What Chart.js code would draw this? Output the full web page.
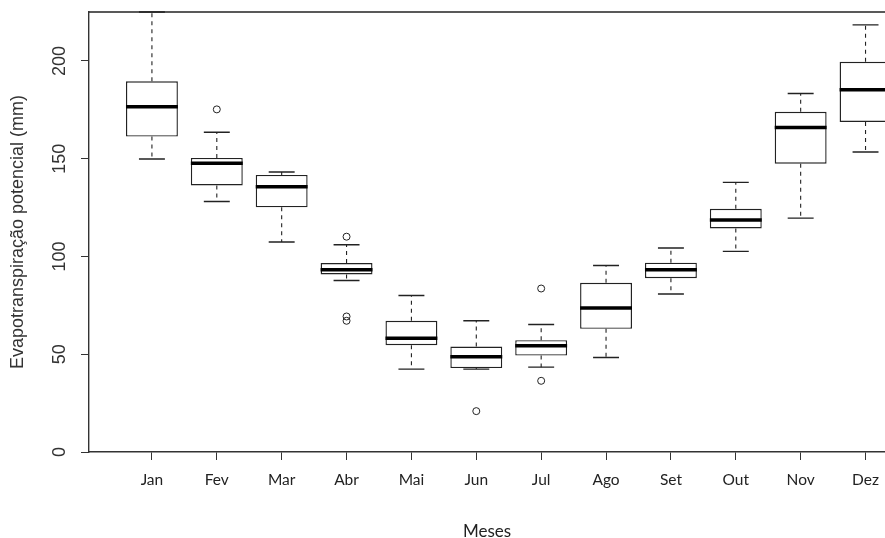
<!DOCTYPE html>
<html>
<head>
<meta charset="utf-8">
<script src="https://cdn.jsdelivr.net/npm/chart.js@4/dist/chart.umd.min.js"></script>
<style>
  body { margin: 0; background: #fff; }
</style>
</head>
<body>
<canvas id="grafico" width="885" height="538"></canvas>
<script>
const meses = ["Jan", "Fev", "Mar", "Abr", "Mai", "Jun", "Jul", "Ago", "Set", "Out", "Nov", "Dez"];
const minimos = [149.8, 128.1, 107.4, 87.7, 42.4, 42.4, 43.4, 48.3, 80.8, 102.6, 119.6, 153.4];
const quartil1 = [161.3, 136.3, 125.1, 90.8, 54.6, 42.9, 49.3, 63.0, 88.9, 114.3, 147.4, 168.8];
const medianas = [176.6, 147.6, 135.7, 93.2, 58.2, 48.7, 54.3, 73.6, 93.2, 118.6, 165.9, 185.3];
const quartil3 = [189.6, 150.4, 141.7, 96.6, 67.1, 53.9, 57.2, 86.5, 96.8, 124.4, 174.0, 199.5];
const maximos = [225.0, 163.5, 143.2, 106.0, 80.0, 67.1, 65.2, 95.4, 104.3, 137.9, 183.3, 218.4];
const outliersMes = ["Fev", "Abr", "Abr", "Abr", "Jun", "Jul", "Jul"];
const outliersValor = [175.2, 110.1, 69.3, 67.1, 20.9, 83.6, 36.4];
const ticksY = [0, 50, 100, 150, 200];

const corLinha = "#222";

// caixas como barras flutuantes
const dadosCaixas = meses.map((m, i) => ({ x: i + 1, y: [quartil1[i], quartil3[i]] }));
const dadosOutliers = outliersMes.map((m, i) => ({ x: meses.indexOf(m) + 1, y: outliersValor[i] }));

// bigodes, medianas e linha de cima da moldura
const desenhaBoxplot = {
  id: "desenhaBoxplot",
  afterDatasetsDraw(chart) {
    const ctx = chart.ctx;
    const x = chart.scales.x;
    const y = chart.scales.y;
    const area = chart.chartArea;
    ctx.save();
    ctx.strokeStyle = corLinha;
    meses.forEach((mes, i) => {
      const pos = i + 1;
      const cx = x.getPixelForValue(pos);

      ctx.lineWidth = 1.1;
      ctx.setLineDash([4, 4]);
      ctx.beginPath();
      ctx.moveTo(cx, y.getPixelForValue(quartil3[i]));
      ctx.lineTo(cx, y.getPixelForValue(maximos[i]));
      ctx.moveTo(cx, y.getPixelForValue(quartil1[i]));
      ctx.lineTo(cx, y.getPixelForValue(minimos[i]));
      ctx.stroke();
      ctx.setLineDash([]);

      ctx.lineWidth = 1.4;
      ctx.beginPath();
      ctx.moveTo(x.getPixelForValue(pos - 0.2), y.getPixelForValue(maximos[i]));
      ctx.lineTo(x.getPixelForValue(pos + 0.2), y.getPixelForValue(maximos[i]));
      ctx.moveTo(x.getPixelForValue(pos - 0.2), y.getPixelForValue(minimos[i]));
      ctx.lineTo(x.getPixelForValue(pos + 0.2), y.getPixelForValue(minimos[i]));
      ctx.stroke();

      ctx.lineWidth = 3.5;
      ctx.strokeStyle = "#000";
      ctx.beginPath();
      ctx.moveTo(x.getPixelForValue(pos - 0.4), y.getPixelForValue(medianas[i]));
      ctx.lineTo(x.getPixelForValue(pos + 0.4), y.getPixelForValue(medianas[i]));
      ctx.stroke();
      ctx.strokeStyle = corLinha;
    });
    ctx.lineWidth = 1.4;
    ctx.beginPath();
    ctx.moveTo(area.left, area.top);
    ctx.lineTo(area.right, area.top);
    ctx.stroke();
    ctx.restore();
  }
};

new Chart(document.getElementById("grafico"), {
  type: "bar",
  data: {
    datasets: [
      {
        type: "bar",
        data: dadosCaixas,
        backgroundColor: "#fff",
        borderColor: corLinha,
        borderWidth: 1.4,
        borderSkipped: false,
        categoryPercentage: 1,
        barPercentage: 0.8
      },
      {
        type: "scatter",
        data: dadosOutliers,
        pointStyle: "circle",
        pointRadius: 3.5,
        borderWidth: 1,
        borderColor: corLinha,
        backgroundColor: "rgba(0,0,0,0)"
      }
    ]
  },
  options: {
    responsive: false,
    animation: false,
    layout: { padding: { top: 12, left: 0, right: 0, bottom: 0 }, autoPadding: false },
    plugins: { legend: { display: false }, tooltip: { enabled: false } },
    scales: {
      x: {
        type: "linear",
        min: 0.03,
        max: 12.3,
        offset: false,
        afterBuildTicks: (axis) => { axis.ticks = meses.map((m, i) => ({ value: i + 1 })); },
        afterFit: (axis) => {
          axis.height = 86;
          axis.paddingLeft = 0;
          axis.paddingRight = 0;
        },
        grid: { drawOnChartArea: false, offset: false, tickLength: 8, color: "#333" },
        border: { color: "#333", width: 1.4 },
        ticks: {
          autoSkip: false,
          maxRotation: 0,
          padding: 11,
          color: "#222",
          font: { family: "Lato", size: 15.5 },
          callback: (v) => meses[v - 1]
        },
        title: {
          display: true,
          text: "Meses",
          color: "#222",
          padding: 0,
          font: { family: "Lato", size: 17, lineHeight: 0.8 }
        }
      },
      y: {
        min: 0,
        max: 225,
        afterBuildTicks: (axis) => { axis.ticks = ticksY.map((v) => ({ value: v })); },
        afterFit: (axis) => {
          axis.width = 89;
          axis.paddingTop = 0;
          axis.paddingBottom = 0;
        },
        grid: { drawOnChartArea: false, tickLength: 8, color: "#333" },
        border: { color: "#333", width: 1.4 },
        ticks: {
          minRotation: 90,
          maxRotation: 90,
          crossAlign: "center",
          padding: 6,
          color: "#333",
          font: { family: "Liberation Sans", size: 18, lineHeight: 1 }
        },
        title: {
          display: true,
          text: "Evapotranspiração potencial (mm)",
          color: "#333",
          padding: { top: 7, bottom: 0 },
          font: { family: "Liberation Sans", size: 18, lineHeight: 1.2 }
        }
      }
    }
  },
  plugins: [desenhaBoxplot]
});
</script>
</body>
</html>
